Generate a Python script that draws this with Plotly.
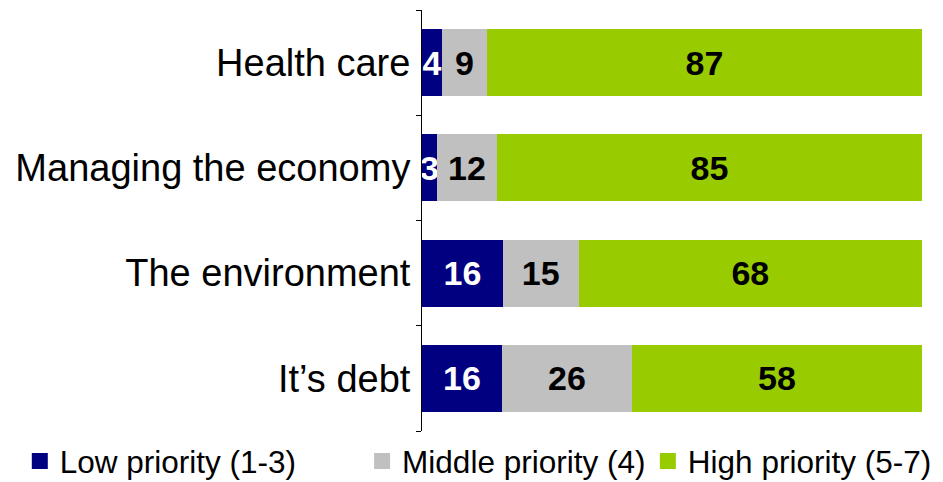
import plotly.graph_objects as go

categories = ["Health care", "Managing the economy", "The environment", "It\u2019s debt"]
low = [4, 3, 16, 16]
middle = [9, 12, 15, 26]
high = [87, 85, 68, 58]
series_names = ["Low priority (1-3)", "Middle priority (4)", "High priority (5-7)"]
colors = ["#000080", "#C0C0C0", "#99CC00"]
text_colors = ["white", "black", "black"]
legend_ids = ["legend", "legend2", "legend3"]
legend_x = [0.021, 0.384, 0.687]

FONT = "Liberation Sans, Arial, sans-serif"

fig = go.Figure()
for vals, name, col, tcol in zip([low, middle, high], series_names, colors, text_colors):
    fig.add_trace(go.Bar(
        y=categories, x=vals, orientation="h", name=name, showlegend=False,
        marker=dict(color=col, line=dict(width=0)),
        text=vals, textposition="inside", insidetextanchor="middle",
        constraintext="none",
        textfont=dict(color=tcol, size=34, family=FONT, weight="bold"),
        width=0.637,
    ))

# legend entries (square swatches)
for name, col, lid in zip(series_names, colors, legend_ids):
    fig.add_trace(go.Scatter(
        x=[None], y=[None], mode="markers", name=name, legend=lid,
        marker=dict(symbol="square", size=16, color=col),
        showlegend=True,
    ))

legend_common = dict(orientation="h", xref="container", yref="container",
                     xanchor="left", yanchor="middle", y=1 - 461 / 482,
                     font=dict(size=31.5, family=FONT, color="black"),
                     itemwidth=30, bgcolor="rgba(0,0,0,0)")

fig.update_layout(
    barmode="stack", barnorm="percent",
    width=943, height=482,
    margin=dict(l=422, r=21, t=10, b=51, autoexpand=False),
    plot_bgcolor="white", paper_bgcolor="white",
    font=dict(family=FONT, color="black"),
    showlegend=True,
    legend=dict(legend_common, x=legend_x[0]),
    legend2=dict(legend_common, x=legend_x[1]),
    legend3=dict(legend_common, x=legend_x[2]),
)
fig.update_xaxes(visible=False, range=[0, 100])
fig.update_yaxes(
    categoryorder="array", categoryarray=categories[::-1],
    showline=True, linecolor="black", linewidth=1,
    ticks="outside", tickson="boundaries", ticklen=5, tickcolor="black",
    tickfont=dict(size=38, color="black", family=FONT),
    ticklabelstandoff=3,
    showgrid=False, zeroline=False,
)
fig.write_html("out.html")
